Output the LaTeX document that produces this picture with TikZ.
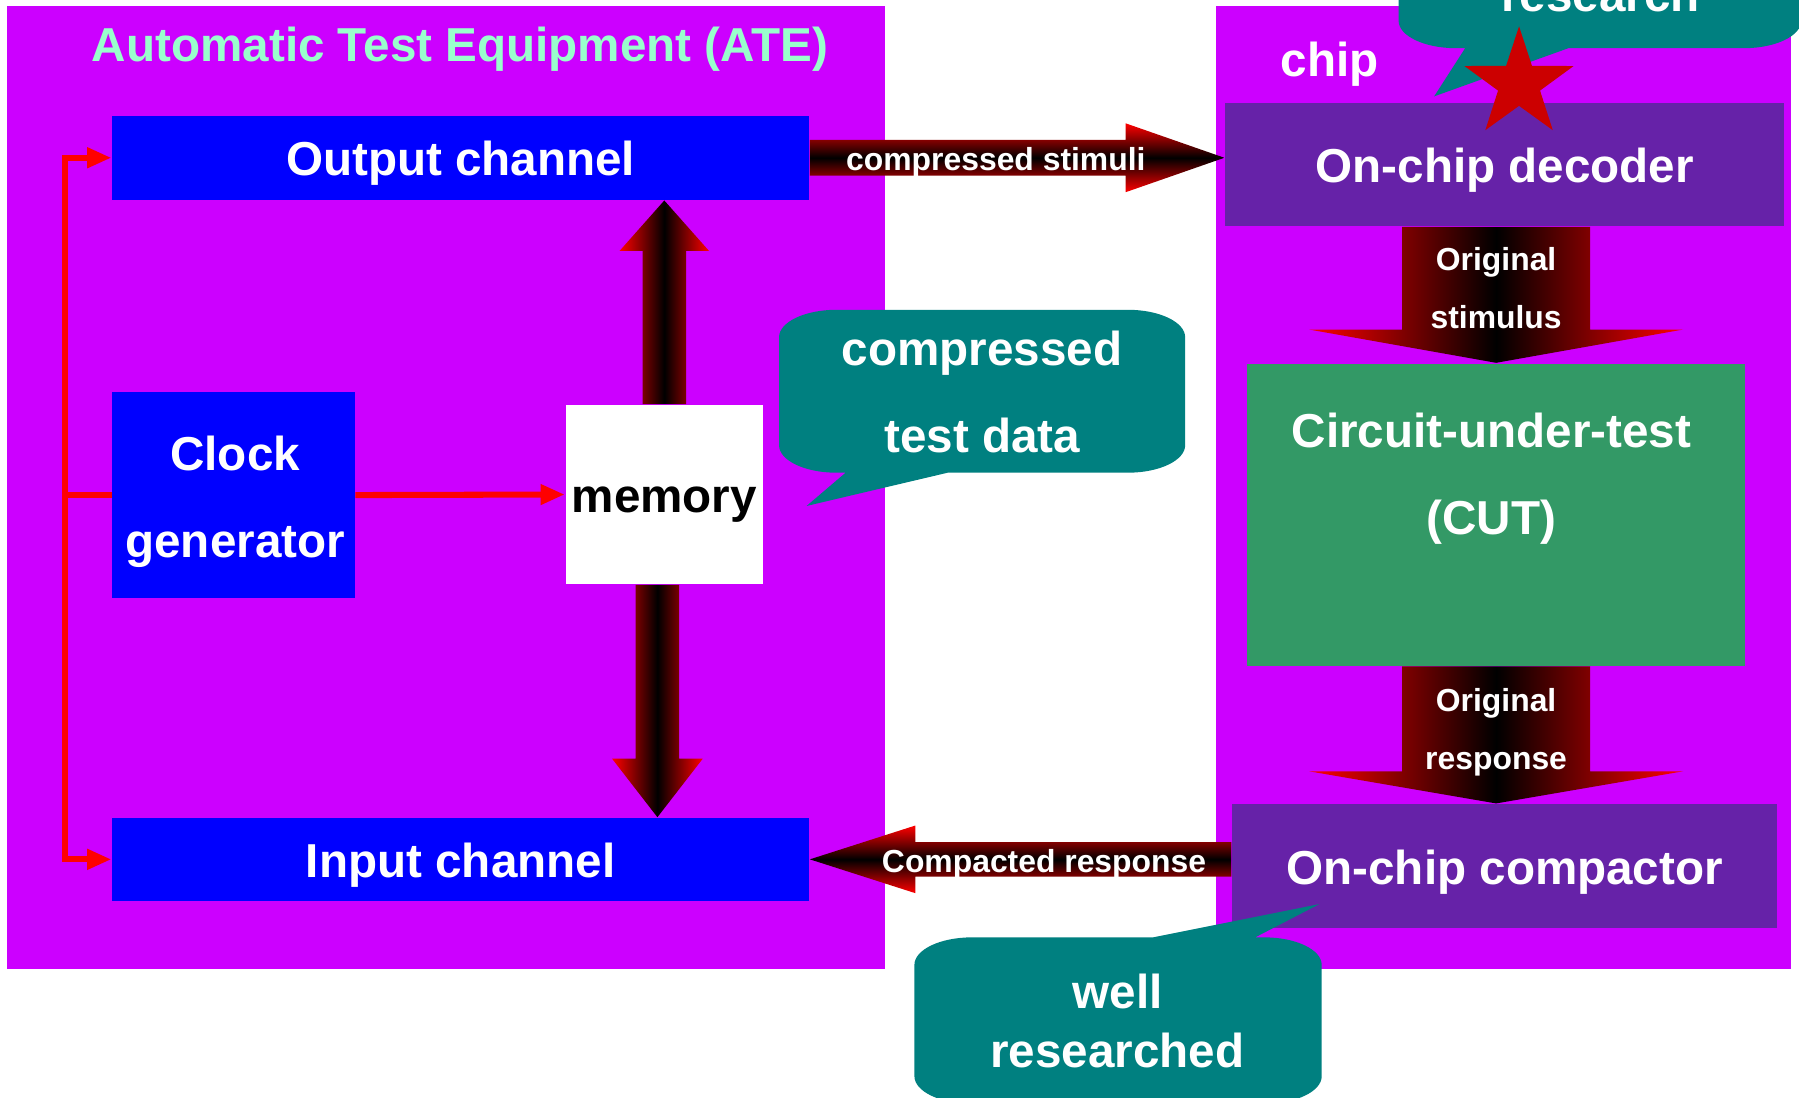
\documentclass[tikz,border=0pt]{standalone}
\usepackage{fontspec}
\setmainfont{Liberation Sans}
\usetikzlibrary{arrows.meta,calc,shapes.geometric}
\definecolor{atebg}{HTML}{CC00FF}
\definecolor{chan}{HTML}{0000FF}
\definecolor{blk}{HTML}{6622A8}
\definecolor{cutc}{HTML}{339966}
\definecolor{notec}{HTML}{008080}
\definecolor{mint}{HTML}{99FFCC}
\definecolor{starc}{HTML}{CC0000}
\newcommand{\bigtxt}{\fontsize{11.8}{21.6}\selectfont\bfseries}
\newcommand{\smalltxt}{\fontsize{7.9}{14.3}\selectfont\bfseries}
\tikzset{bg/.style={fill=atebg},
  onel/.style={text height=1.1em,text depth=.2em},
  chbox/.style={rectangle,fill=chan,text=white,font=\bigtxt,inner sep=0pt},
  blkbox/.style={rectangle,fill=blk,text=white,font=\bigtxt,inner sep=0pt,onel},
  clkline/.style={draw=red,line width=1.5pt},
  clkarr/.style={-{Triangle[length=6pt,width=4.8pt]}},
  harr/.style={top color=red,bottom color=red,middle color=black},
  varr/.style={left color=red,right color=red,middle color=black},
  lbl/.style={text=white,font=\smalltxt,align=center,inner sep=0pt},
  note/.style={fill=notec},
  btxt/.style={text=white,font=\bigtxt,align=center,inner sep=0pt}}
% #1 shading, #2 tail, #3 tip, #4 head offset, #5 shaft half, #6 head half
\newcommand{\gradarrow}[6]{%
\coordinate (hb) at ($(#3)+#4$);
\shade[#1] ($(#2)+#5$) -- ($(hb)+#5$) -- ($(hb)+#6$) -- (#3) -- ($(hb)-#6$)
  -- ($(hb)-#5$) -- ($(#2)-#5$) -- cycle;
}

\begin{document}
\begin{tikzpicture}[x=0.01cm,y=-0.01cm]
\clip (0,0) rectangle (1568,957);
\fill[white] (0,0) rectangle (1568,957);
% ATE and chip
\fill[bg] (6,5) rectangle (771,845);
\fill[bg] (1060,5) rectangle (1561,845);
\node[text=mint,font=\bigtxt,inner sep=0pt] (ttl) at (401,43) {Automatic Test Equipment (ATE)};
\node[text=white,font=\bigtxt,inner sep=0pt] (chiplbl) at (1159,56) {chip};
\node[chbox,onel,minimum width=6.07cm,minimum height=.73cm] (out) at (401.5,137.5) {Output channel};
\node[chbox,minimum width=2.11cm,minimum height=1.79cm] (clk) at (203.5,431.5) {};
\node[btxt] (clktxt) at (205,437.5) {Clock\\generator};
\node[rectangle,fill=white,minimum width=1.72cm,minimum height=1.56cm,font=\bigtxt,inner sep=0pt,onel] (mem) at (579,431) {memory};
\node[chbox,onel,minimum width=6.07cm,minimum height=.72cm] (inp) at (401.5,749) {Input channel};
\node[blkbox,minimum width=4.87cm,minimum height=1.07cm] (dec) at (1311.5,143.5) {On-chip decoder};
\node[rectangle,fill=cutc,minimum width=4.34cm,minimum height=2.63cm,inner sep=0pt] (cut) at (1304,448.5) {};
\node[btxt] (cuttxt) at (1300,417) {Circuit-under-test\\(CUT)};
\node[blkbox,minimum width=4.75cm,minimum height=1.08cm] (cmp) at (1311.5,755) {On-chip compactor};
% clock wires
\draw[clkline] (clk.west) -- (57,431.5) coordinate (bus);
\draw[clkline,clkarr] (bus) |- (out.west);
\draw[clkline,clkarr] (bus) |- (inp.west);
\draw[clkline,clkarr] (clk.east) -- (mem.west);
% data arrows
\coordinate (uptip) at (mem.north |- out.south);
\coordinate (dtail) at ($(mem.south)+(-6,0)$);
\coordinate (dtip) at (dtail |- inp.north);
\coordinate (stip) at (dec.west |- out.east);
\coordinate (rtail) at (cmp.west |- inp.east);
\coordinate (ostail) at (cut.north |- dec.south);
\coordinate (ortip) at (cut.south |- cmp.north);
\gradarrow{varr}{mem.north}{uptip}{(0,44)}{(19,0)}{(39,0)}
\gradarrow{varr}{dtail}{dtip}{(0,-51)}{(19,0)}{(39.5,0)}
\gradarrow{harr}{out.east}{stip}{(-86,0)}{(0,15.5)}{(0,30)}
\gradarrow{harr}{rtail}{inp.east}{(92,0)}{(0,15)}{(0,29.5)}
\gradarrow{varr}{ostail}{cut.north}{(0,-29)}{(82,0)}{(163,0)}
\gradarrow{varr}{cut.south}{ortip}{(0,-28)}{(82,0)}{(163,0)}
\node[lbl] (stimlbl) at (868,141.5) {compressed stimuli};
\node[lbl] (resplbl) at (910,753) {Compacted response};
\node[lbl] (oslbl) at (1304,251) {Original\\stimulus};
\node[lbl] (orlbl) at (1304,638) {Original\\response};
% callouts
\fill[note] (729,270) -- (983,270) arc[start angle=-90,end angle=0,x radius=50,y radius=24]
  -- (1033,388) arc[start angle=0,end angle=90,x radius=50,y radius=24]
  -- (826,412) -- (703,441) -- (737,412) -- (729,412)
  arc[start angle=90,end angle=180,x radius=50,y radius=24]
  -- (679,294) arc[start angle=180,end angle=270,x radius=50,y radius=24] -- cycle;
\node[btxt] (cdtxt) at (856,342) {compressed\\test data};
\fill[note] (1219,-100) -- (1219,18) arc[start angle=180,end angle=90,x radius=50,y radius=24]
  -- (1277,42) -- (1250,84) -- (1367,42) -- (1520,42)
  arc[start angle=90,end angle=0,x radius=50,y radius=24] -- (1570,-100) -- cycle;
\node[btxt,anchor=base] (restxt) at (1395,10) {research};
\node[star,star points=5,star point ratio=2.6,fill=starc,minimum size=1cm,inner sep=0pt] (hot) at (1324,73) {};
\fill[note] (847,817) -- (1005,817) -- (1150,788) -- (1094,817) -- (1102,817)
  arc[start angle=-90,end angle=0,x radius=50,y radius=24] -- (1152,938)
  arc[start angle=0,end angle=90,x radius=50,y radius=24] -- (847,962)
  arc[start angle=90,end angle=180,x radius=50,y radius=24] -- (797,841)
  arc[start angle=180,end angle=270,x radius=50,y radius=24] -- cycle;
\node[btxt,font=\fontsize{11.8}{14.5}\selectfont\bfseries] (wrtxt) at (974,890) {well\\researched};
\end{tikzpicture}
\end{document}
